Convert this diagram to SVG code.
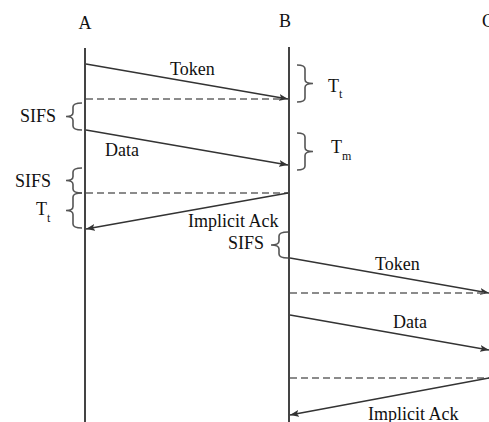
<svg xmlns="http://www.w3.org/2000/svg" width="489" height="422" viewBox="0 0 489 422">
<defs>
<marker id="arr" markerUnits="userSpaceOnUse" markerWidth="10" markerHeight="8" refX="9" refY="4" orient="auto">
<path d="M0,0.5 L9,4 L0,7.5 L2,4 z" fill="#333"/>
</marker>
<style>
text{font-family:"Liberation Serif","Times New Roman",serif;font-size:18px;fill:#111}
.sub{font-size:12px}
.life{stroke:#444;stroke-width:2;fill:none}
.msg{stroke:#333;stroke-width:1.5;fill:none;marker-end:url(#arr)}
.dash{stroke:#666;stroke-width:1.5;stroke-dasharray:7,4;fill:none}
.brace{stroke:#555;stroke-width:1.6;fill:none}
</style>
</defs>
<rect width="489" height="422" fill="#fff"/>
<g id="nodeA">
<text x="85" y="29" text-anchor="middle">A</text>
<line class="life" x1="85" y1="48" x2="85" y2="422"/>
</g>
<g id="nodeB">
<text x="285" y="27" text-anchor="middle">B</text>
<line class="life" x1="289" y1="47" x2="289" y2="422"/>
</g>
<g id="nodeC">
<text x="482" y="27">C</text>
</g>
<g id="connectors">
<line class="msg" x1="86" y1="64" x2="288" y2="99"/>
<line class="dash" x1="86" y1="99" x2="284" y2="99"/>
<line class="msg" x1="86" y1="130" x2="288" y2="165"/>
<line class="dash" x1="86" y1="193" x2="288" y2="193"/>
<line class="msg" x1="288" y1="193" x2="86" y2="229"/>
<line class="msg" x1="290" y1="258" x2="489" y2="293"/>
<line class="dash" x1="290" y1="293" x2="489" y2="293"/>
<line class="msg" x1="290" y1="315" x2="489" y2="350"/>
<line class="dash" x1="290" y1="378" x2="489" y2="378"/>
<line class="msg" x1="489" y1="378" x2="290" y2="415"/>
</g>
<g id="labels">
<text x="170" y="75">Token</text>
<text x="105" y="156">Data</text>
<text x="188" y="227">Implicit Ack</text>
<text x="375" y="270">Token</text>
<text x="393" y="328">Data</text>
<text x="368" y="420">Implicit Ack</text>
</g>
<g id="braces">
<path class="brace" d="M82,103 Q73,103 73,107 L73,112.5 Q73,116.5 66,116.5 Q73,116.5 73,120.5 L73,126 Q73,130 82,130"/>
<text x="20" y="122">SIFS</text>
<path class="brace" d="M82,168 Q73,168 73,172 L73,176.5 Q73,180.5 66,180.5 Q73,180.5 73,184.5 L73,189 Q73,193 82,193"/>
<text x="15" y="187">SIFS</text>
<path class="brace" d="M82,193 Q73,193 73,197 L73,206.5 Q73,210.5 66,210.5 Q73,210.5 73,214.5 L73,224 Q73,228 82,228"/>
<text x="36" y="215">T</text><text class="sub" x="47" y="222">t</text>
<path class="brace" d="M288,232 Q279,232 279,236 L279,241 Q279,245 271,245 Q279,245 279,249 L279,254 Q279,258 288,258"/>
<text x="228" y="249">SIFS</text>
<path class="brace" d="M297,65 Q305,65 305,69 L305,79.5 Q305,83.5 313,83.5 Q305,83.5 305,87.5 L305,98 Q305,102 297,102"/>
<text x="328" y="92">T</text><text class="sub" x="339" y="98">t</text>
<path class="brace" d="M297,133 Q305,133 305,137 L305,147.5 Q305,151.5 313,151.5 Q305,151.5 305,155.5 L305,166 Q305,170 297,170"/>
<text x="331" y="153">T</text><text class="sub" x="342" y="160">m</text>
</g>
</svg>
